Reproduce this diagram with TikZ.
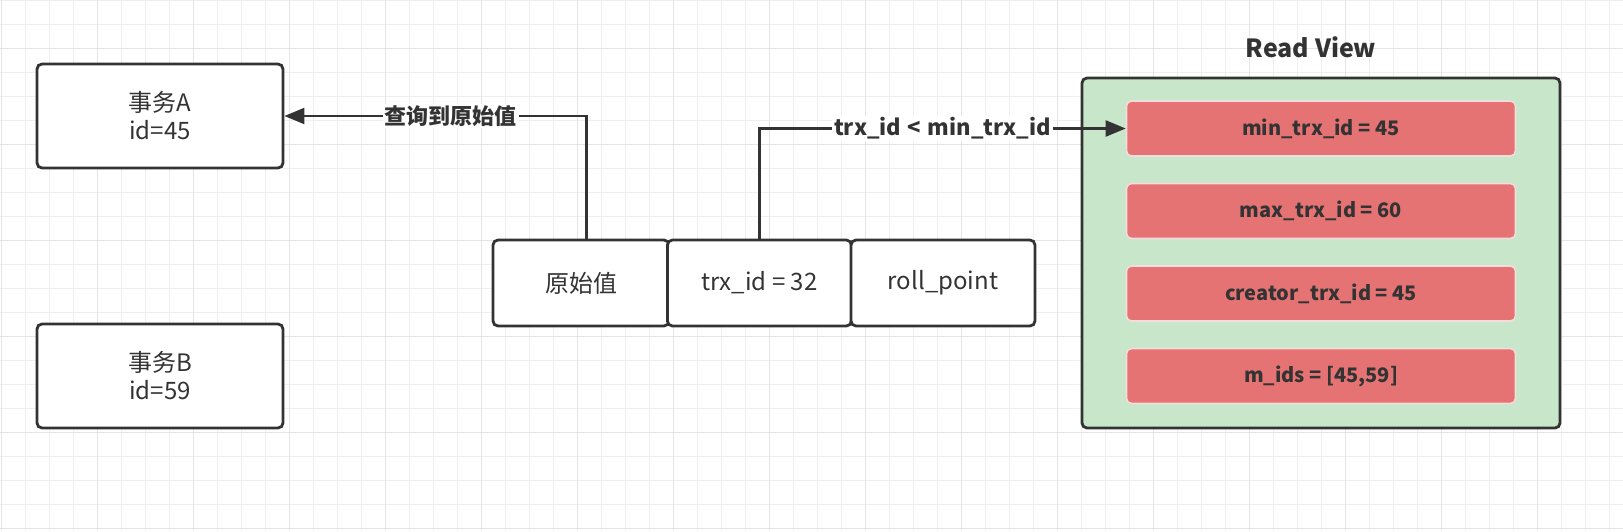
\documentclass[tikz,border=0pt]{standalone}
\usepackage{fontspec}
\setmainfont{Noto Sans CJK SC}
\usepackage{tikz}
\usetikzlibrary{arrows.meta,positioning,calc}

\definecolor{ink}{HTML}{333333}
\definecolor{rvgreen}{HTML}{C8E6C9}
\definecolor{rvred}{HTML}{E57373}
\definecolor{rvedge}{HTML}{F2DCDC}
\definecolor{gridminor}{HTML}{EFEFEF}
\definecolor{gridmajor}{HTML}{E4E4E4}

\begin{document}
\begin{tikzpicture}[x=0.5pt, y=-0.5pt,
  tx/.style={draw=ink, line width=1.4pt, rounded corners=2.5pt, fill=white,
    minimum width=123pt, minimum height=52pt, align=center, text=ink,
    font=\fontsize{12}{14}\selectfont},
  cell/.style={draw=ink, line width=1.4pt, rounded corners=2.5pt, fill=white,
    minimum height=43pt, text=ink, font=\fontsize{12}{14}\selectfont},
  field/.style={draw=rvedge, line width=0.8pt, rounded corners=2.5pt, fill=rvred,
    minimum width=194.5pt, minimum height=27.5pt, text=ink,
    font=\fontsize{10}{12}\selectfont\bfseries},
  conn/.style={draw=ink, line width=1.1pt, -{Triangle[length=10pt,width=8pt]}},
  lbl/.style={fill=white, inner sep=1pt, text=ink, font=\fontsize{11}{13}\selectfont\bfseries}]
\useasboundingbox (0,0) rectangle (1623,531);
% background grid
\foreach \i in {0,...,67} \draw[gridminor, line width=0.7pt] ({1.4+24*\i},0) -- ++(0,531);
\foreach \i in {0,...,22} \draw[gridminor, line width=0.7pt] (0,{0.3+24*\i}) -- ++(1623,0);
\foreach \i in {0,...,16} \draw[gridmajor, line width=0.8pt] ({1.4+96*\i},0) -- ++(0,531);
\foreach \i in {0,...,5} \draw[gridmajor, line width=0.8pt] (0,{48.3+96*\i}) -- ++(1623,0);

\node[tx] (txA) at (160,116) {事务A\\id=45};
\node[tx] (txB) at (160,376) {事务B\\id=59};

\node[cell, minimum width=88pt] (val) at (581,283) {原始值};
\node[cell, minimum width=92pt, right=-2.2pt of val] (trx) {trx\_id = 32};
\node[cell, minimum width=92pt, right=-1.6pt of trx] (roll) {roll\_point};

\node[draw=ink, line width=1.4pt, rounded corners=2.5pt, fill=rvgreen,
  minimum width=239pt, minimum height=175pt] (rv) at (1321,253) {};
\node[text=ink, font=\fontsize{12.5}{15}\selectfont\bfseries] (rvtitle) at (1311,47) {Read View};

\node[field] (minid) at (1321,128.5) {min\_trx\_id = 45};
\node[field] (maxid) at (1321,211) {max\_trx\_id = 60};
\node[field] (creid) at (1321,293.5) {creator\_trx\_id = 45};
\node[field] (mids) at (1321,376) {m\_ids = [45,59]};

\draw[conn] ([xshift=2.7pt]val.north) |- (txA.east) node[lbl, pos=0.725] {查询到原始值};
\draw[conn] (trx.north) |- (minid.west) node[lbl, pos=0.75]
  {trx\_id\hspace{0.3em}<\hspace{0.3em}min\_trx\_id};
\end{tikzpicture}
\end{document}
